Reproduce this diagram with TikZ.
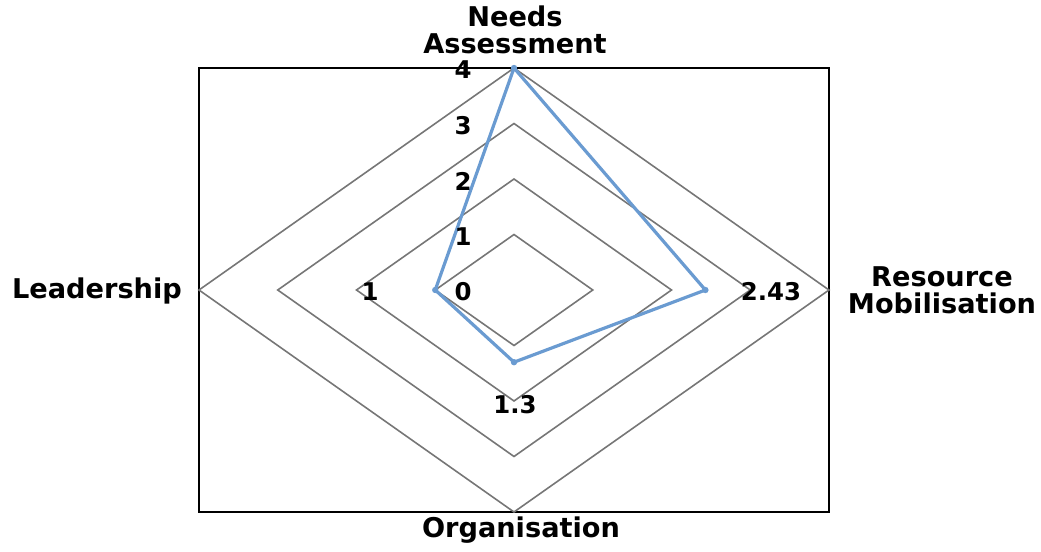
\documentclass[tikz,border=0pt]{standalone}
\usepackage{fontspec}
\setmainfont{DejaVu Sans}
\definecolor{gridgray}{RGB}{118,118,118}
\definecolor{seriesblue}{RGB}{106,155,209}
\tikzset{
  axisname/.style={font=\bfseries\fontsize{13.6}{13.6}\selectfont, align=center, inner sep=0pt},
  ticklabel/.style={font=\bfseries\fontsize{12.2}{12.2}\selectfont, inner sep=0pt},
  ring/.style={draw=gridgray, line width=0.8pt, line join=miter},
  series/.style={draw=seriesblue, line width=1.6pt, line join=round}
}
\begin{document}
\begin{tikzpicture}[x=0.5pt,y=-0.5pt]
  \useasboundingbox (0,0) rectangle (1041,552);
  \draw[line width=1.1pt] (199,68) rectangle (829,512);

  \begin{scope}[shift={(514,290)}]
    % rings at 1..4
    \foreach \k in {1,2,3,4}
      \draw[ring] (0,-55.5*\k) -- (78.75*\k,0) -- (0,55.5*\k) -- (-78.75*\k,0) -- cycle;

    % data points
    \coordinate (needs) at (0,-222);
    \coordinate (resource) at (191.4,0);
    \coordinate (organ) at (0,72.2);
    \coordinate (leader) at (-78.75,0);
    \draw[series] (needs) -- (resource) -- (organ) -- (leader) -- cycle;
    \foreach \p in {needs,resource,organ,leader}
      \fill[seriesblue] (\p) circle (3.2);

    % scale labels
    \foreach \k in {0,...,4}
      \node[ticklabel] (tick\k) at (-51,-55.5*\k+2) {\k};

    % value labels
    \node[ticklabel] (valleader) at (-144,2) {1};
    \node[ticklabel] (valresource) at (257,2) {2.43};
    \node[ticklabel] (valorgan) at (1,115) {1.3};

    % axis names
    \node[axisname] (nameneeds) at (1,-260) {Needs\\Assessment};
    \node[axisname] (nameresource) at (428,0) {Resource\\Mobilisation};
    \node[axisname] (nameleader) at (-417,1) {Leadership};
    \node[axisname] (nameorgan) at (7,240) {Organisation};
  \end{scope}
\end{tikzpicture}
\end{document}
